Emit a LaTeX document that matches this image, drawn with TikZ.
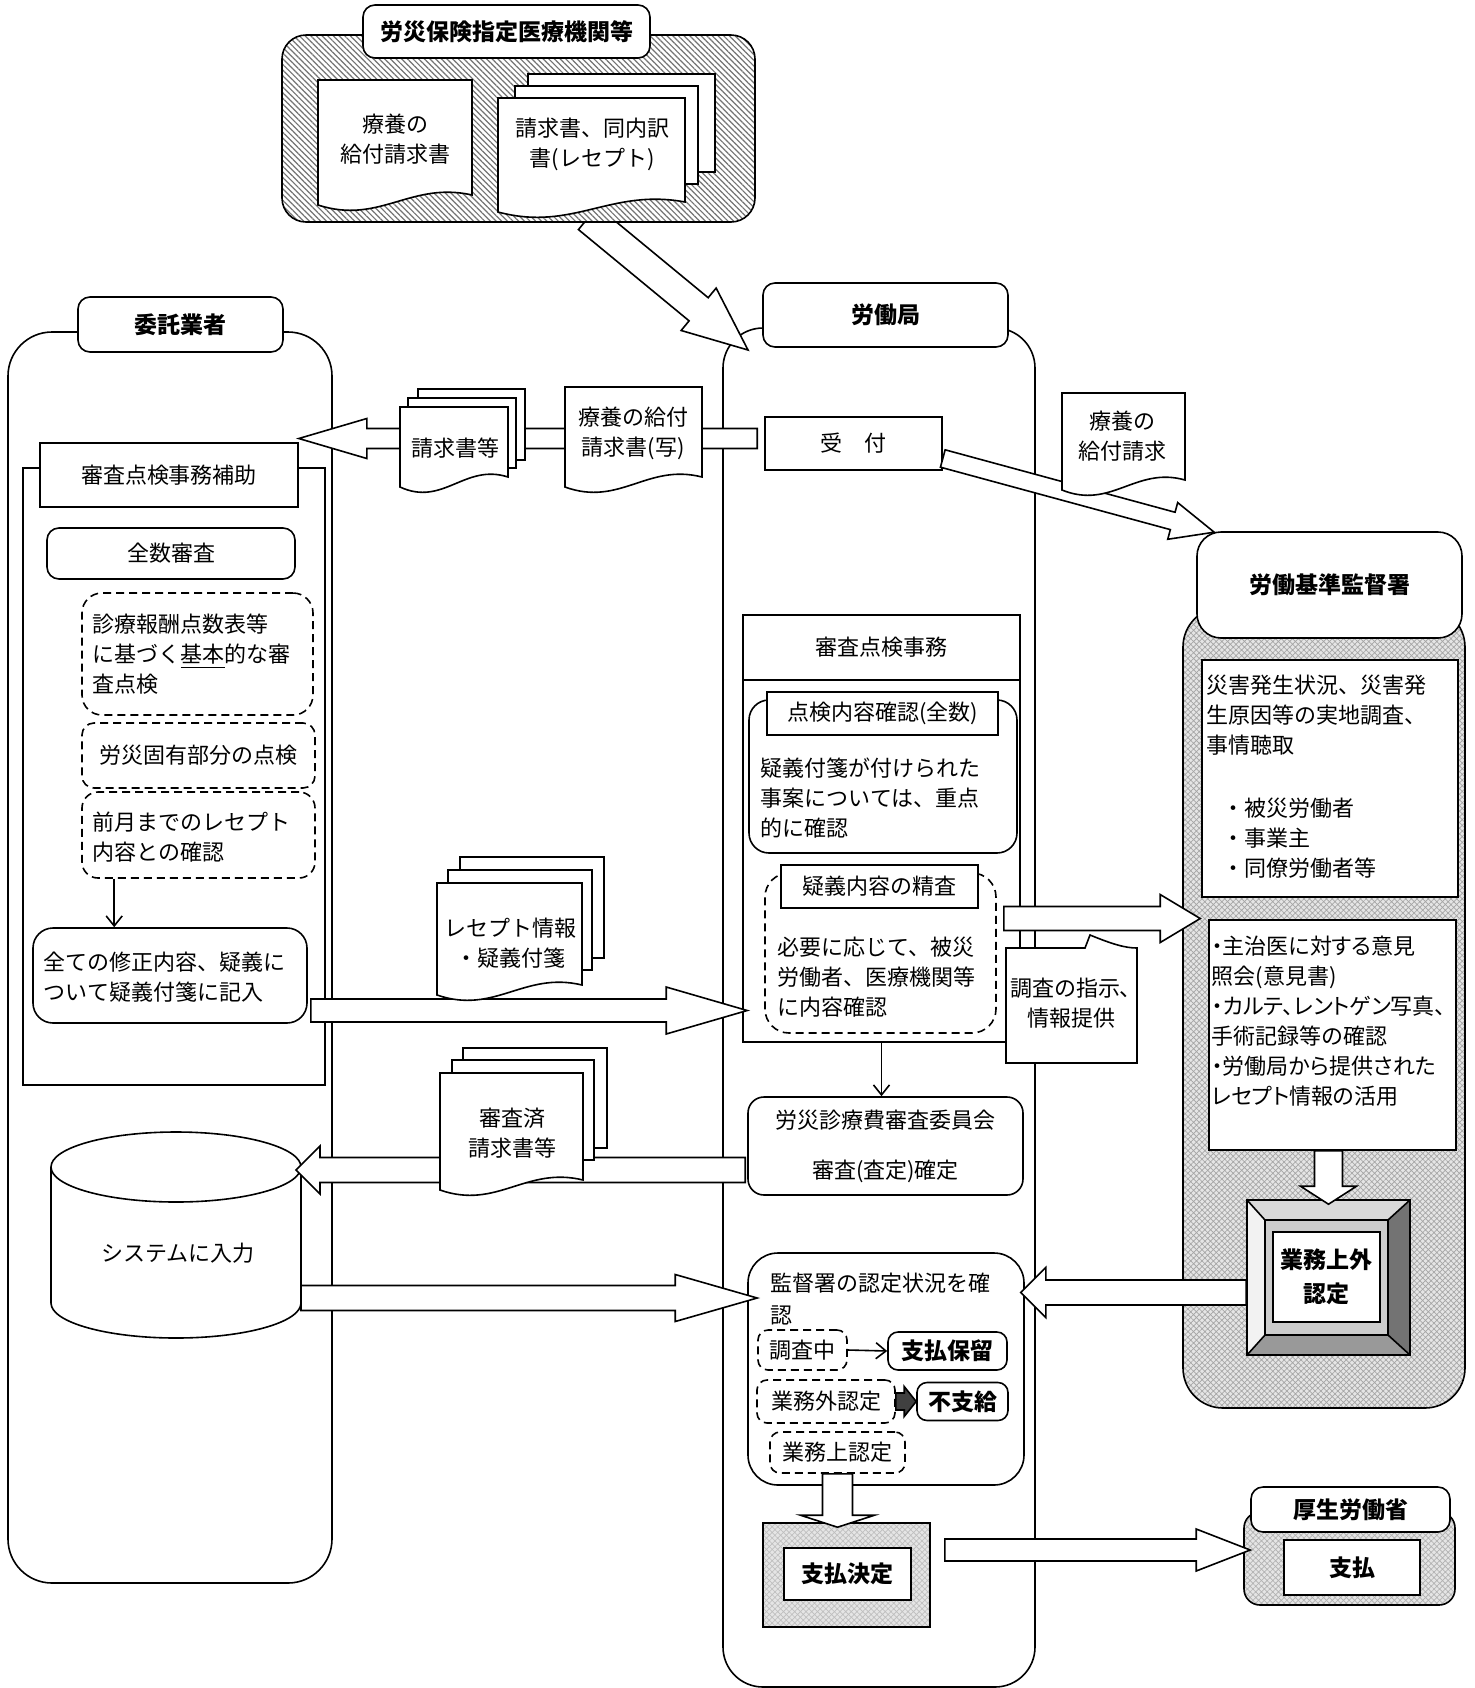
\documentclass[tikz,border=0pt]{standalone}
\usepackage{fontspec}
\setmainfont{Noto Sans CJK JP}
\usetikzlibrary{positioning,calc,patterns.meta,arrows.meta}

% one sheet with a wavy foot: left x, top y, right x, foot y (pixel units)
\newcommand{\docpage}[4]{%
  \filldraw[fill=white] (#1,#2) -- (#3,#2) -- (#3,{#4-10})
    .. controls ({#1+0.6*(#3-#1)},{#4-24}) and ({#1+0.4*(#3-#1)},{#4+20}) .. (#1,#4) -- cycle;}
\newcommand{\backpage}[4]{\filldraw[fill=white] (#1,#2) rectangle (#3,#4);}
% hollow block arrow: [opts] from, to, half shaft, half head, head length
\newcommand{\fatarrow}[6][]{%
  \coordinate (fa) at ($(#3)!#6!(#2)$);
  \filldraw[fill=white,#1] ($(#2)!#4!90:(#3)$) -- ($(fa)!#4!90:(#3)$) -- ($(fa)!#5!90:(#3)$) -- (#3)
    -- ($(fa)!#5!-90:(#3)$) -- ($(fa)!#4!-90:(#3)$) -- ($(#2)!#4!-90:(#3)$) -- cycle;}
\newcommand{\palt}{\addfontfeature{RawFeature=+palt}}

\begin{document}
\begin{tikzpicture}[x=0.5pt,y=-0.5pt,line width=0.8pt,font=\fontsize{11}{15}\selectfont]
\tikzstyle{box}=[rectangle, draw, fill=white, inner sep=0pt]
\tikzstyle{rbox}=[box, rounded corners=6pt]
\tikzstyle{dbox}=[rbox, dash pattern=on 4pt off 2.5pt]
\tikzstyle{strong}=[font=\fontsize{11.5}{15}\selectfont\bfseries]
\tikzstyle{hdr}=[rbox, strong]
\tikzstyle{txt}=[inner sep=0pt, align=left, anchor=west]
\tikzstyle{link}=[-{Straight Barb[length=5pt,width=8pt]}]
\tikzstyle{stipple}=[draw, inner sep=0pt, preaction={fill=black!10}, pattern={Hatch[distance=2pt,angle=45,line width=0.35pt]}, pattern color=black!35]
\tikzstyle{stripes}=[draw, inner sep=0pt, preaction={fill=white}, pattern={Lines[angle=-45,distance=2pt,line width=0.6pt]}, pattern color=black!55]
\useasboundingbox (0,0) rectangle (1475,1688);

% columns
  \node[rbox, rounded corners=22pt, minimum width=162pt, minimum height=625.5pt] (itaku) at (170,957.5) {};
  \node[rbox, rounded corners=20pt, minimum width=156pt, minimum height=679.5pt] (roudouC) at (879,1007.5) {};
  \node[stipple, rounded corners=20pt, minimum width=141pt, minimum height=400.5pt] (kanC) at (1324,1007.5) {};
  \node[hdr, minimum width=102.5pt, minimum height=27.5pt] (itakuH) at (180.5,324.5) {委託業者};
  \node[hdr, minimum width=122.5pt, minimum height=32pt] (roudou) at (885.5,315) {労働局};
  \node[hdr, rounded corners=12pt, minimum width=132.5pt, minimum height=53pt] (kan) at (1329.5,585) {労働基準監督署};

% medical institutions
  \coordinate (ta) at (588,218);
  \coordinate (tb) at (748,350);
  \fatarrow{ta}{tb}{7.5pt}{13.75pt}{32pt}
  \node[stripes, rounded corners=12pt, minimum width=236.5pt, minimum height=93.5pt] (iryo) at (518.5,128.5) {};
  \node[hdr, minimum width=143.5pt, minimum height=26.5pt] (iryoH) at (506.5,31.5) {労災保険指定医療機関等};
  \docpage{318}{80}{472}{205}
  \node (ryoyo) at (395,139) [align=center] {療養の\\給付請求書};
  \backpage{528}{74}{715}{172}
  \backpage{515}{86}{698}{184}
  \docpage{498}{98}{685}{212}
  \node (seikyu) at (592,144) [align=center] {請求書、同内訳\\書(レセプト)};

% contractor
  \node[box, minimum width=151pt, minimum height=308.5pt] (hojoF) at (174,776.5) {};
  \node[box, minimum width=129pt, minimum height=32pt] (hojo) at (169,475) {審査点検事務補助};
  \node[rbox, minimum width=124pt, minimum height=25.5pt] (zensu) at (171,553.5) {全数審査};
  \node[dbox, rounded corners=10pt, minimum width=115.5pt, minimum height=61pt] (d1) at (197.5,654) {};
  \node[txt] (d1t) at (92,654) {診療報酬点数表等\\に基づく\underline{基本}的な審\\査点検};
  \node[dbox, minimum width=116.5pt, minimum height=32.5pt] (d2) at (198.5,755.5) {労災固有部分の点検};
  \node[dbox, rounded corners=8pt, minimum width=116.5pt, minimum height=43pt] (d3) at (198.5,835) {};
  \node[txt] (d3t) at (92,837) {前月までのレセプト\\内容との確認};
  \node[rbox, rounded corners=10pt, minimum width=137pt, minimum height=47.5pt] (zenbu) at (170,975.5) {};
  \node[txt] (zenbut) at (43,977) {全ての修正内容、疑義に\\ついて疑義付箋に記入};
  \coordinate (d3a) at ($(d3.south west)+(33,0)$);
  \draw[link] (d3a) -- (d3a |- zenbu.north);
  \filldraw[fill=white] (51,1167) -- (51,1303) arc[start angle=180,end angle=360,x radius=62.5pt,y radius=17.5pt]
    -- (301,1167) arc[start angle=0,end angle=180,x radius=62.5pt,y radius=17.5pt] -- cycle;
  \draw (51,1167) arc[start angle=180,end angle=360,x radius=62.5pt,y radius=17.5pt];
  \node (db) at (178,1253) {システムに入力};
  \coordinate (dbTip) at (296,1170);
  \coordinate (dbOut) at (301,1298);

% labour bureau
  \node[box, minimum width=88.5pt, minimum height=26.5pt] (uke) at (853.5,443.5) {受　付};
  \node[box, minimum width=138.5pt, minimum height=213.5pt] (jimuF) at (881.5,828.5) {};
  \node[box, minimum width=138.5pt, minimum height=32.5pt] (jimu) at (881.5,647.5) {審査点検事務};
  \node[rbox, rounded corners=10pt, minimum width=134pt, minimum height=76.5pt] (tenken) at (883,776.5) {};
  \node[box, minimum width=115.5pt, minimum height=21.5pt] (tenkenH) at (882.5,713.5) {点検内容確認(全数)};
  \node[txt] (tenkenT) at (760,798) {疑義付箋が付けられた\\事案については、重点\\的に確認};
  \node[dbox, rounded corners=12pt, minimum width=115.5pt, minimum height=80pt] (gigi) at (880.5,953) {};
  \node[box, minimum width=98.5pt, minimum height=21.5pt] (gigiH) at (879.5,886.5) {疑義内容の精査};
  \node[txt] (gigiT) at (777,977) {必要に応じて、被災\\労働者、医療機関等\\に内容確認};
  \node[rbox, rounded corners=8pt, minimum width=137.5pt, minimum height=49pt] (iin) at (885.5,1146) [align=center] {労災診療費審査委員会\\[10pt]審査(査定)確定};
  \draw[link] (jimuF.south) -- (jimuF.south |- iin.north);
  \node[rbox, rounded corners=15pt, minimum width=138pt, minimum height=116pt] (kakunin) at (886,1369) {};
  \node[txt] (kakuninT) at (770,1299) {監督署の認定状況を確\\[1pt]認};
  \node[dbox, rounded corners=5pt, minimum width=44.5pt, minimum height=20pt] (chosachu) at (802.5,1350) {調査中};
  \node[rbox, strong, rounded corners=5pt, minimum width=59.5pt, minimum height=19pt] (horyu) at (947.5,1351) {支払保留};
  \draw[link] (chosachu.east) -- (horyu.west);
  \node[dbox, rounded corners=5pt, minimum width=69pt, minimum height=21.5pt] (gaiN) at (826,1401.5) {業務外認定};
  \node[rbox, strong, rounded corners=5pt, minimum width=45.5pt, minimum height=19pt] (fushi) at (962.5,1401.5) {不支給};
  \fatarrow[fill=black!75]{gaiN.east}{fushi.west}{4.25pt}{7.5pt}{6pt}
  \node[dbox, rounded corners=5pt, minimum width=67.5pt, minimum height=20.5pt] (joN) at (837.5,1452.5) {業務上認定};
  \node[stipple, pattern color=black!25, minimum width=83.5pt, minimum height=52pt] (ketteiF) at (846.5,1575) {};
  \node[box, strong, minimum width=63.5pt, minimum height=26pt] (kettei) at (847.5,1574) {支払決定};
  \coordinate (jo2) at ($(joN.south |- ketteiF.north)+(0,5)$);
  \fatarrow{joN.south}{jo2}{7.5pt}{18.5pt}{6pt}

% inspection office
  \node[box, minimum width=128pt, minimum height=118.5pt] (info1) at (1330,778.5) {};
  \node[txt] (info1a) at (1206,715) {災害発生状況、災害発\\生原因等の実地調査、\\事情聴取};
  \node[txt] (info1b) at (1222,838) {・被災労働者\\・事業主\\・同僚労働者等};
  \node[box, minimum width=123.5pt, minimum height=115pt] (info2) at (1332.5,1035) {};
  \node[txt] (info2t) at (1211,1021) {\palt ・主治医に対する意見\\\palt 照会(意見書)\\\palt ・カルテ、レントゲン写真、\\\palt 手術記録等の確認\\\palt ・労働局から提供された\\\palt レセプト情報の活用};
  \fill[black!15] (1247,1200) -- (1410,1200) -- (1388,1220) -- (1265,1220) -- cycle;
  \fill[black!5] (1247,1200) -- (1265,1220) -- (1265,1335) -- (1247,1355) -- cycle;
  \fill[black!55] (1410,1200) -- (1410,1355) -- (1388,1335) -- (1388,1220) -- cycle;
  \fill[black!40] (1247,1355) -- (1410,1355) -- (1388,1335) -- (1265,1335) -- cycle;
  \filldraw[fill=black!20] (1265,1220) rectangle (1388,1335);
  \draw (1247,1200) -- (1265,1220) (1410,1200) -- (1388,1220) (1410,1355) -- (1388,1335) (1247,1355) -- (1265,1335);
  \node[draw, inner sep=0pt, minimum width=81.5pt, minimum height=77.5pt] (bevel) at (1328.5,1277.5) {};
  \node[box, strong, minimum width=53.5pt, minimum height=45pt, align=center] (gyomu) at (1326.5,1277) {業務上外\\[2pt]認定};
  \coordinate (i2) at (bevel.north |- info2.south);
  \coordinate (i3) at ($(bevel.north)+(0,5)$);
  \fatarrow{i2}{i3}{7pt}{14pt}{9pt}

% ministry
  \node[stipple, pattern color=black!30, rounded corners=8pt, minimum width=105.5pt, minimum height=46.5pt] (koseiC) at (1349.5,1558.5) {};
  \node[hdr, minimum width=99.5pt, minimum height=22.5pt] (kosei) at (1350.5,1509.5) {厚生労働省};
  \node[box, strong, minimum width=68pt, minimum height=27.5pt] (shiharai) at (1352,1567.5) {支払};

% flows between the offices
  \coordinate (u1) at ($(uke.west)+(-7,-5)$);
  \coordinate (u2) at (u1 -| hojo.east);
  \fatarrow{u1}{u2}{5pt}{10pt}{34pt}
  \coordinate (u3) at ($(uke.east)+(0,15)$);
  \coordinate (u4) at ($(kan.north west)+(18,1)$);
  \fatarrow{u3}{u4}{4.5pt}{9.5pt}{21.5pt}
  \coordinate (z1) at ($(zenbu.east)+(3,35)$);
  \coordinate (z2) at ($(z1 -| jimuF.west)+(5,0)$);
  \fatarrow{z1}{z2}{5.75pt}{11.75pt}{40.5pt}
  \coordinate (j1) at ($(jimuF.east)+(-17,90)$);
  \coordinate (j2) at ($(j1 -| info2.west)+(-8,0)$);
  \fatarrow{j1}{j2}{6pt}{12pt}{20pt}
  \coordinate (c1) at ($(iin.west)+(-2,24)$);
  \coordinate (c2) at (c1 -| dbTip);
  \fatarrow{c1}{c2}{6.25pt}{12pt}{12pt}
  \coordinate (k1) at ($(dbOut -| kakunin.west)+(10,0)$);
  \fatarrow{dbOut}{k1}{6.25pt}{11.75pt}{41pt}
  \coordinate (b1) at ($(bevel.west)+(0,15)$);
  \coordinate (b2) at ($(b1 -| kakunin.east)+(-4,0)$);
  \fatarrow{b1}{b2}{6.25pt}{12.5pt}{12.5pt}
  \coordinate (s1) at ($(ketteiF.east)+(14,-25)$);
  \coordinate (s2) at ($(s1 -| koseiC.west)+(7,0)$);
  \fatarrow{s1}{s2}{5.5pt}{10.5pt}{27pt}

% papers on the flows
  \backpage{418}{389}{525}{460}
  \backpage{408}{398}{516}{468}
  \docpage{400}{407}{508}{487}
  \node (tou) at (455,448) {請求書等};
  \docpage{565}{387}{702}{487}
  \node (utsushi) at (633,433) [align=center] {療養の給付\\請求書(写)};
  \docpage{1062}{393}{1185}{490}
  \node (ryoyo2) at (1122,436) [align=center] {療養の\\給付請求};
  \backpage{460}{857}{604}{958}
  \backpage{448}{870}{592}{970}
  \docpage{437}{883}{582}{995}
  \node (rece) at (510,943) [align=center] {レセプト情報\\・疑義付箋};
  \backpage{463}{1048}{607}{1148}
  \backpage{452}{1060}{594}{1160}
  \docpage{440}{1073}{583}{1190}
  \node (sumi) at (512,1133) [align=center] {審査済\\請求書等};
  \filldraw[fill=white] (1006,1063) -- (1006,948) -- (1085,948) .. controls (1087,941) .. (1090,935)
    .. controls (1112,944) and (1125,948) .. (1137,948) -- (1137,1063) -- cycle;
  \node (chosa) at (1071,1003) [align=center] {\palt 調査の指示、\\\palt 情報提供};
\end{tikzpicture}
\end{document}
